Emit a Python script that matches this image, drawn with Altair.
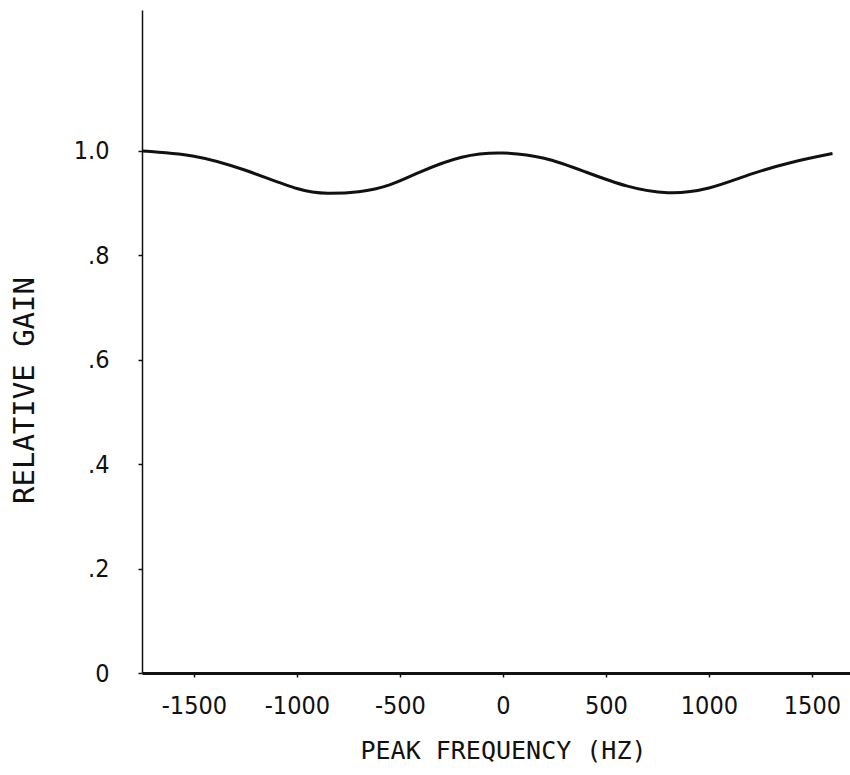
import altair as alt
import pandas as pd

freq_hz = [-1750, -1500, -1250, -1000, -850, -700, -550, -400, -200, 0,
           200, 400, 600, 800, 1000, 1200, 1400, 1600]
gain = [1.0, 0.99, 0.963, 0.928, 0.919, 0.922, 0.935, 0.96, 0.988, 0.996,
        0.986, 0.96, 0.933, 0.92, 0.929, 0.955, 0.978, 0.995]

x_ticks = [-1500, -1000, -500, 0, 500, 1000, 1500]
y_ticks = [0, 0.2, 0.4, 0.6, 0.8, 1.0]

df = pd.DataFrame({"freq": freq_hz, "gain": gain})

LABEL_FONT = "DejaVu Sans Condensed"
TITLE_FONT = "DejaVu Sans Mono"

chart = alt.Chart(df).mark_line(
    color="#111111", strokeWidth=3, interpolate="natural"
).encode(
    x=alt.X("freq:Q",
            scale=alt.Scale(domain=[-1752, 1685], nice=False, zero=False),
            axis=alt.Axis(values=x_ticks, title="PEAK FREQUENCY (HZ)",
                          labelExpr="toString(datum.value)",
                          grid=False, domainColor="#111111", domainWidth=3,
                          tickColor="#111111", tickSize=4, tickWidth=1.5,
                          labelFont=LABEL_FONT, labelFontSize=25,
                          labelColor="#111111", labelPadding=16,
                          labelFlush=False,
                          titleFont=TITLE_FONT, titleFontSize=25,
                          titleFontWeight="normal", titleColor="#111111",
                          titleX=361, titleY=77, titleAlign="center",
                          titleBaseline="middle")),
    y=alt.Y("gain:Q",
            scale=alt.Scale(domain=[0, 1.27], nice=False),
            axis=alt.Axis(values=y_ticks, title="RELATIVE GAIN",
                          labelExpr="datum.value == 0 ? '0' : datum.value == 1 ? '1.0' : replace(format(datum.value, '.1f'), '0.', '.')",
                          grid=False, domainColor="#111111", domainWidth=1.5,
                          tickColor="#111111", tickSize=4, tickWidth=1.5,
                          labelFont=LABEL_FONT, labelFontSize=25,
                          labelColor="#111111", labelPadding=29,
                          labelFlush=False,
                          titleFont=TITLE_FONT, titleFontSize=29,
                          titleFontWeight="normal", titleColor="#111111",
                          titleAngle=270, titleX=-118, titleY=380,
                          titleAlign="center", titleBaseline="middle")),
).properties(
    width=708,
    height=663,
    autosize="none",
    padding={"left": 142, "top": 10, "right": 0, "bottom": 102},
    background="white",
).configure_view(stroke=None)

chart.save("out.html", embed_options={"renderer": "svg", "actions": False})
